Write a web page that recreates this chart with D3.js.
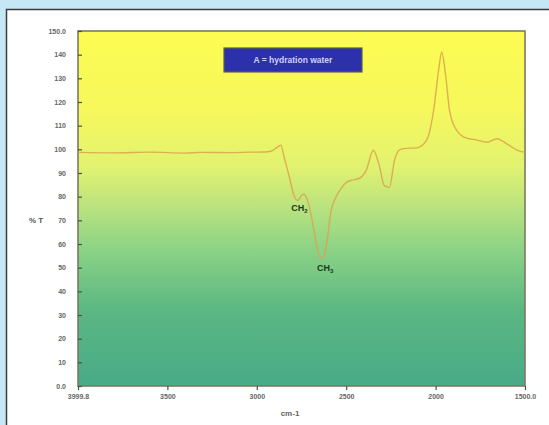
<!DOCTYPE html>
<html lang="en">
<head>
<meta charset="UTF-8">
<title>IR spectrum</title>
<style>
    body { margin: 0; background: #c6e7f6; }
    svg { display: block; }
</style>
</head>
<body>
<svg></svg>
<script src="https://cdn.jsdelivr.net/npm/d3@7"></script>
<script>
// spectrum
const wavenumber = [3999.8, 3800, 3595, 3400, 3315, 3150, 3034, 2960, 2921, 2890, 2865, 2845, 2820, 2792, 2770, 2750, 2736, 2708, 2685, 2652, 2629, 2607, 2584, 2556, 2528, 2500, 2472, 2427, 2388, 2348, 2315, 2287, 2258, 2230, 2202, 2163, 2107, 2051, 2011, 1983, 1966, 1944, 1921, 1882, 1826, 1770, 1713, 1657, 1601, 1545, 1500];
const transmittance = [98.7, 98.5, 98.8, 98.4, 98.7, 98.6, 98.8, 98.9, 99.2, 100.6, 101.7, 96, 89, 80.5, 78.4, 80.5, 81, 76.3, 67.8, 55.1, 53.8, 61.4, 74.2, 80, 83.5, 86, 86.9, 87.7, 91.1, 99.6, 93.2, 84.7, 84, 95.3, 99.8, 100.4, 100.6, 103.8, 116.5, 133.5, 141.1, 131.4, 116, 108, 104.7, 104, 103, 104.5, 102.3, 99.7, 98.7];

const xTicks = [3999.8, 3500, 3000, 2500, 2000, 1500];
const xTickLabels = ["3999.8", "3500", "3000", "2500", "2000", "1500.0"];
const yTicks = d3.range(0, 151, 10);
const yTickLabels = yTicks.map(v => v === 150 ? "150.0" : v === 0 ? "0.0" : String(v));

const peakLabels = [
    { wn: 2762, t: 74, sub: "2" },
    { wn: 2618, t: 48.5, sub: "3" }
];
const legendText = "A = hydration water";

const width = 549, height = 425;
const margin = { top: 31, right: 24, bottom: 39, left: 78 };

const svg = d3.select("svg")
    .attr("width", width)
    .attr("height", height);

// white panel
svg.append("rect")
    .attr("x", 6.5).attr("y", 9.5)
    .attr("width", width).attr("height", height)
    .attr("fill", "#fff")
    .attr("stroke", "#3a3a3a")
    .attr("stroke-width", 1.5);

const x = d3.scaleLinear()
    .domain([3999.8, 1500])
    .range([margin.left, width - margin.right]);

const y = d3.scaleLinear()
    .domain([0, 150])
    .range([height - margin.bottom, margin.top]);

const defs = svg.append("defs");
const grad = defs.append("linearGradient")
    .attr("id", "bg")
    .attr("x1", 0).attr("y1", 0).attr("x2", 0).attr("y2", 1);
[
    [0, "#fcfc52"],
    [0.22, "#f6f85c"],
    [0.38, "#e2f270"],
    [0.5, "#b8e280"],
    [0.62, "#8ad286"],
    [0.78, "#5cb882"],
    [1, "#48aa88"]
].forEach(([o, c]) => grad.append("stop").attr("offset", o).attr("stop-color", c));

svg.append("rect")
    .attr("x", x.range()[0])
    .attr("y", y.range()[1])
    .attr("width", x.range()[1] - x.range()[0])
    .attr("height", y.range()[0] - y.range()[1])
    .attr("fill", "url(#bg)")
    .attr("stroke", "#7c7a62")
    .attr("stroke-width", 1.6);

// axes
const yAxis = svg.append("g")
    .attr("transform", `translate(${margin.left},0)`)
    .call(d3.axisLeft(y).tickValues(yTicks).tickSize(-4).tickPadding(12)
        .tickFormat((d, i) => yTickLabels[i]));

const xAxis = svg.append("g")
    .attr("transform", `translate(0,${height - margin.bottom})`)
    .call(d3.axisBottom(x).tickValues(xTicks).tickSize(4).tickPadding(4)
        .tickFormat((d, i) => xTickLabels[i]));

[yAxis, xAxis].forEach(a => {
    a.select(".domain").remove();
    a.selectAll(".tick line").attr("stroke", "#3d5a40").attr("stroke-width", 1.2);
    a.selectAll(".tick text")
        .attr("fill", "#666")
        .attr("font-family", "Arial, 'Liberation Sans', sans-serif")
        .attr("font-size", 7)
        .attr("font-weight", "bold");
});

// spectrum line
const pts = wavenumber.map((w, i) => [w, transmittance[i]]);
svg.append("path")
    .datum(pts)
    .attr("fill", "none")
    .attr("stroke", "#dca24e")
    .attr("stroke-opacity", 0.85)
    .attr("stroke-width", 1.4)
    .attr("d", d3.line().x(d => x(d[0])).y(d => y(d[1])).curve(d3.curveMonotoneX));

// CH labels
peakLabels.forEach(p => {
    const t = svg.append("text")
        .attr("x", x(p.wn))
        .attr("y", y(p.t))
        .attr("text-anchor", "middle")
        .attr("fill", "#1f3a16")
        .attr("font-family", "Arial, 'Liberation Sans', sans-serif")
        .attr("font-size", 9)
        .attr("font-weight", "bold");
    t.append("tspan").text("CH");
    t.append("tspan").attr("font-size", 6).attr("dy", 2).text(p.sub);
});

// legend box
svg.append("rect")
    .attr("x", 224).attr("y", 48)
    .attr("width", 138).attr("height", 24)
    .attr("fill", "#2c30aa")
    .attr("stroke", "#59604a")
    .attr("stroke-width", 1.2);
svg.append("text")
    .attr("x", 293).attr("y", 63)
    .attr("text-anchor", "middle")
    .attr("fill", "#cfd0ff")
    .attr("font-family", "Arial, 'Liberation Sans', sans-serif")
    .attr("font-size", 8.5)
    .attr("font-weight", "bold")
    .text(legendText);

// axis titles
svg.append("text")
    .attr("x", 36).attr("y", y(70) + 3)
    .attr("text-anchor", "middle")
    .attr("fill", "#555")
    .attr("font-family", "Arial, 'Liberation Sans', sans-serif")
    .attr("font-size", 8)
    .attr("font-weight", "bold")
    .text("% T");

svg.append("text")
    .attr("x", 290).attr("y", 416)
    .attr("text-anchor", "middle")
    .attr("fill", "#666")
    .attr("font-family", "Arial, 'Liberation Sans', sans-serif")
    .attr("font-size", 8)
    .attr("font-weight", "bold")
    .text("cm-1");
</script>
</body>
</html>
